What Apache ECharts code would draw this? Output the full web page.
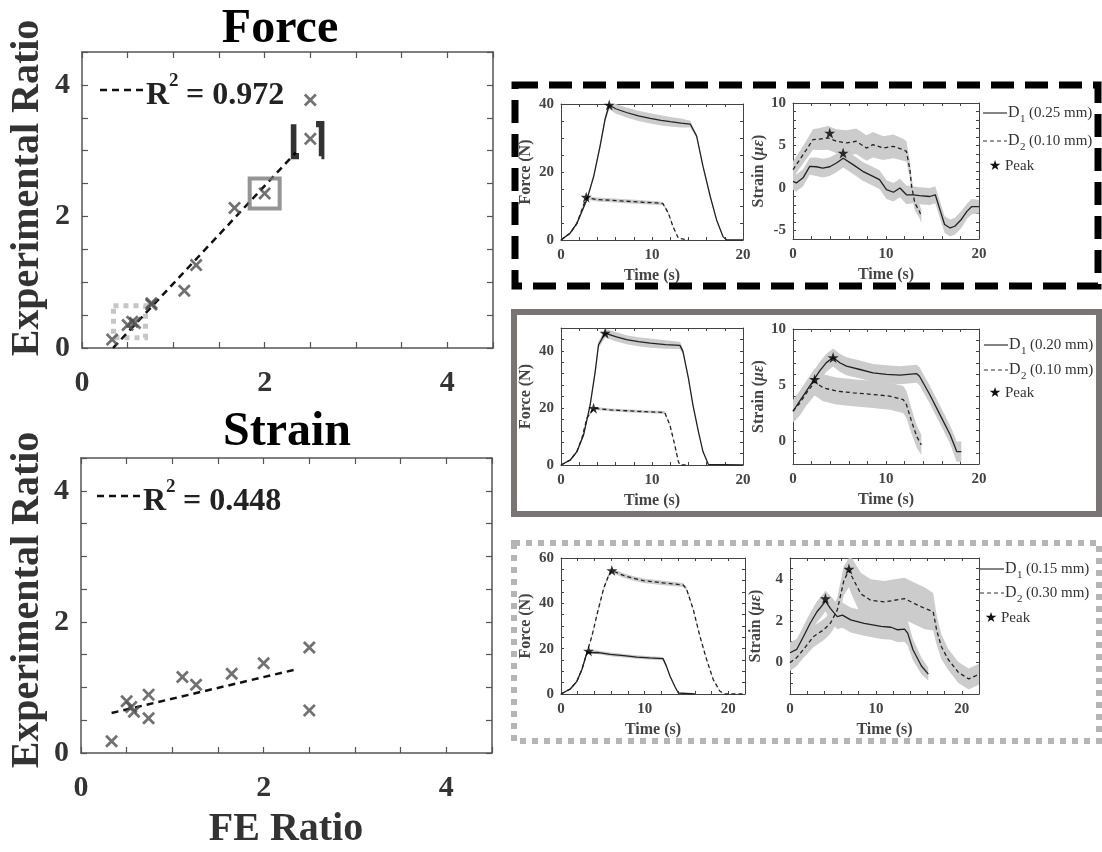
<!DOCTYPE html>
<html><head><meta charset="utf-8">
<script src="https://cdn.jsdelivr.net/npm/echarts@6/dist/echarts.min.js"></script>
<style>html,body{margin:0;padding:0;background:#fff}#c{width:1102px;height:852px}</style>
</head><body><div id="c"></div><script>
// ---------------- DATA ----------------
const feRatio   = [0.33, 0.50, 0.55, 0.58, 0.76, 0.76, 1.12, 1.25, 1.67, 2.00, 2.50, 2.50];
const forceExp  = [0.13, 0.35, 0.40, 0.38, 0.68, 0.66, 0.87, 1.26, 2.13, 2.35, 3.18, 3.77];
const strainX   = [0.335,0.50, 0.55, 0.58, 0.74, 0.74, 1.11, 1.26, 1.65, 2.00, 2.50, 2.50];
const strainExp = [0.18, 0.79, 0.70, 0.63, 0.89, 0.53, 1.16, 1.04, 1.21, 1.37, 1.61, 0.65];
const forceFit  = [[0.34, 0.0], [2.34, 2.97]];
const strainFit = [[0.335, 0.61], [2.34, 1.27]];
const forceR2 = "0.972", strainR2 = "0.448";
const boxBlack  = [[2.47, 3.16]];
const boxGray   = [[2.00, 2.35]];
const boxLight  = [[0.52, 0.40]];

// insets: [time, mean, sd]
const force1D1 = [[0,0,0.2],[1.0,2,0.3],[1.75,4.9,0.4],[2.85,11.9,0.5],[3.6,18.8,0.6],[4.3,27.7,0.8],[4.85,35.6,1.0],[5.3,39.7,1.2],[6.0,38.6,1.4],[7.2,37.5,1.5],[8.5,36.5,1.5],[9.8,35.8,1.5],[11,35.2,1.5],[12,34.8,1.4],[13.2,34.4,1.3],[14.2,34.1,1.0],[14.9,30.6,0.6],[15.6,21.7,0.4],[16.4,12.8,0.3],[17.1,5.9,0.2],[17.8,1,0.1],[18.2,0,0],[20,0,0]];
const force1D2 = [[0,0,0.2],[1.0,2,0.3],[1.75,4.9,0.4],[2.77,12.4,0.5],[4,11.9,0.6],[5.4,11.7,0.6],[7.2,11.4,0.6],[9,11.1,0.6],[10.5,10.9,0.5],[11.2,10.7,0.5],[11.8,7.9,0.4],[12.3,4,0.3],[12.9,0.5,0.1],[13,0,0],[14,0,0]];
const strain1D1 = [[0,0.78,1.0],[0.36,0.6,1.0],[1.08,1.2,1.0],[1.8,2.55,1.0],[2.5,2.5,1.1],[3.2,2.35,1.1],[3.95,2.5,1.1],[4.67,2.94,1.1],[5.4,3.5,1.1],[6.46,2.75,1.1],[7.5,1.96,1.1],[8.6,1.37,1.1],[9.3,0.98,1.1],[10.05,-0.2,1.1],[10.8,-0.5,1.1],[11.5,0,1.1],[12.2,-0.8,1.1],[12.9,-0.8,1.0],[13.6,-0.9,1.0],[14.7,-1.0,1.0],[15.3,-0.8,1.0],[15.8,-2.55,1.0],[16.3,-4.3,1.0],[16.9,-4.7,1.0],[17.4,-4.5,1.0],[18.1,-3.7,1.0],[18.7,-2.75,0.9],[19.2,-2.2,0.9],[20,-2.2,0.8]];
const strain1D2 = [[0,2.16,1.0],[0.72,3.33,1.0],[1.44,4.5,1.1],[2.15,5.7,1.2],[2.87,5.76,1.3],[3.77,5.9,1.4],[4.67,5.5,1.4],[5.75,5.3,1.5],[6.8,5.5,1.5],[7.9,4.7,1.5],[8.6,5.1,1.5],[9.7,4.7,1.4],[10.8,4.9,1.4],[11.85,4.5,1.3],[12.2,4.3,1.2],[12.57,2.16,1.0],[12.75,0.2,1.0],[13.1,-1.76,0.9],[13.6,-2.75,0.8],[13.8,-3.33,0.8]];
const force2D1 = [[0,0,0.2],[1.02,1.75,0.3],[1.75,4.7,0.4],[2.48,10.5,0.6],[3.2,21,0.8],[3.76,32.7,1.0],[4.12,42.1,1.2],[4.85,46.2,1.5],[6,45,1.6],[7.2,43.9,1.6],[8.5,43.2,1.6],[9.8,42.7,1.6],[11.5,42.2,1.5],[13.07,41.9,1.3],[13.4,39.8,1.0],[14,30.4,0.6],[14.5,21,0.4],[15.1,11.7,0.3],[15.6,4.7,0.2],[16.2,0.2,0.1],[16.35,0,0],[20,0,0]];
const force2D2 = [[0,0,0.2],[1.02,1.75,0.3],[1.75,4.7,0.4],[2.3,9.4,0.5],[2.85,16.4,0.5],[3.58,19.9,0.5],[5.4,19.3,0.5],[7.2,19,0.5],[9.05,18.7,0.5],[11.4,18.4,0.5],[11.97,14,0.4],[12.5,7,0.3],[12.9,1.2,0.2],[13.07,0,0],[14,0,0]];
const strain2D1 = [[0,2.69,0.7],[0.72,3.58,0.8],[1.44,4.48,0.8],[2.15,5.37,0.8],[2.87,6.27,0.8],[3.59,7.01,0.8],[4.31,7.46,0.8],[5.03,7.0,0.8],[5.75,6.7,0.8],[7.2,6.4,0.8],[8.6,6.1,0.8],[10.05,5.97,0.8],[11.5,5.9,0.8],[13.3,6.03,0.8],[13.6,5.8,0.8],[14.7,4.18,0.8],[15.8,2.39,0.8],[16.9,0.6,0.8],[17.4,-0.45,0.9],[17.6,-0.9,0.9],[18.1,-0.9,0.9]];
const strain2D2 = [[0,2.69,1.0],[0.72,3.4,1.1],[1.44,4.3,1.1],[2.33,5.3,1.2],[3.23,4.78,1.2],[4.67,4.48,1.2],[6.46,4.33,1.2],[8.6,4.18,1.2],[10.4,4.03,1.2],[11.85,3.73,1.2],[12.2,3.28,1.2],[12.75,1.79,1.1],[13.3,0.45,1.0],[13.8,-0.3,0.9]];
const force3D1 = [[0,0,0.2],[1.11,2.2,0.3],[1.9,5.6,0.4],[2.5,10.8,0.5],[3.1,18.2,0.6],[3.3,19,0.7],[4.5,18.3,0.8],[5.9,17.5,0.8],[7.5,16.9,0.8],[9.07,16.3,0.8],[10.6,15.9,0.8],[12.2,15.6,0.7],[12.6,12.3,0.5],[13.04,7.85,0.4],[13.6,3.4,0.3],[14.03,0.44,0.1],[14.2,0,0],[16,0,0]];
const force3D2 = [[0,0,0.2],[1.11,2.2,0.3],[1.9,5.6,0.4],[2.5,10.8,0.5],[3.1,18.2,0.6],[3.7,25.6,0.7],[4.37,36,0.8],[5.09,46.4,0.9],[5.69,52.3,1.0],[6.08,54.5,1.0],[7.47,52.3,1.0],[8.7,51,1.0],[9.86,50,1.0],[12.25,49,1.0],[14.6,48.1,0.9],[15,46.4,0.8],[15.8,37.5,0.6],[16.6,25.6,0.5],[17.4,15.3,0.4],[18.2,6.4,0.3],[19,1.2,0.2],[19.6,0,0],[22,0,0]];
const strain3D1 = [[0,0.47,0.5],[0.78,0.63,0.5],[1.57,1.25,0.5],[2.35,1.88,0.5],[3.14,2.43,0.5],[3.92,2.82,0.5],[4.12,2.95,0.5],[4.7,2.59,0.6],[5.5,2.2,0.6],[6.1,2.27,0.6],[7.06,2.04,0.6],[8.63,1.88,0.6],[10.6,1.73,0.6],[11.76,1.69,0.6],[12.55,1.57,0.6],[13.33,1.6,0.6],[13.7,1.41,0.6],[14.3,0.63,0.5],[15.3,-0.16,0.4],[16.1,-0.55,0.3]];
const strain3D2 = [[0,0,0.4],[0.78,0.24,0.4],[1.57,0.63,0.4],[2.75,1.25,0.5],[3.92,1.57,0.5],[4.7,1.88,0.5],[5.5,2.51,0.6],[6.27,3.92,0.7],[6.86,4.4,0.8],[7.25,4.08,0.9],[8.24,3.29,1.0],[9.4,2.98,1.0],[10.98,2.9,1.0],[12.16,2.98,1.0],[13.33,3.06,1.0],[14.5,2.82,1.0],[15.7,2.59,1.0],[16.67,2.43,0.9],[17.06,1.57,0.7],[17.6,0.78,0.6],[18.4,0.16,0.5],[19.6,-0.47,0.5],[20.8,-0.78,0.5],[21.6,-0.63,0.5],[22,-0.55,0.5]];
const force1Peak  = [[5.3, 39.7], [2.77, 12.6]];
const strain1Peak = [[3.95, 6.47], [5.39, 4.12]];
const force2Peak  = [[4.85, 46.2], [3.58, 19.9]];
const strain2Peak = [[4.31, 7.46], [2.33, 5.52]];
const force3Peak  = [[3.3, 19.0], [6.08, 54.5]];
const strain3Peak = [[4.12, 3.06], [6.86, 4.47]];
const legend1 = ["(0.25 mm)", "(0.10 mm)"];
const legend2 = ["(0.20 mm)", "(0.10 mm)"];
const legend3 = ["(0.15 mm)", "(0.30 mm)"];

// ---------------- BUILD ----------------
const FONT = "'Liberation Serif','Times New Roman',serif";
const grids = [], xAxes = [], yAxes = [], series = [], graphic = [];
const isLab = (v, e) => { const r = v / e; return Math.abs(r - Math.round(r)) < 1e-6; };
function mkAxis(dim, gi, o, mirror) {
  return {
    type: 'value', gridIndex: gi, min: o.min, max: o.max, interval: o.interval,
    position: dim === 'x' ? (mirror ? 'top' : 'bottom') : (mirror ? 'right' : 'left'),
    axisLine: { show: true, onZero: false, lineStyle: { color: o.lc, width: o.lw } },
    axisTick: { show: true, inside: true, length: o.tl, lineStyle: { color: o.lc, width: o.tw || 1 } },
    axisLabel: { show: !mirror, margin: o.margin, color: o.labColor, fontFamily: FONT, fontWeight: 'bold',
      fontSize: o.fs, showMinLabel: true, showMaxLabel: true, hideOverlap: false,
      formatter: v => isLab(v, o.every) ? String(Math.round(v * 100) / 100) : '' },
    splitLine: { show: false },
    name: mirror ? '' : (o.name || ''), nameLocation: 'middle', nameGap: o.nameGap || 20,
    nameTextStyle: o.nameStyle || {}
  };
}
function addGrid(rect, xo, yo) {
  const gi = grids.length;
  grids.push(Object.assign({ containLabel: false, outerBoundsMode: 'none', show: false }, rect));
  xAxes.push(mkAxis('x', gi, xo, false), mkAxis('x', gi, xo, true));
  yAxes.push(mkAxis('y', gi, yo, false), mkAxis('y', gi, yo, true));
  return { xi: 2 * gi, yi: 2 * gi, ymin: yo.min, ymax: yo.max };
}
const xPath = 'path://M0,3 L3,0 L10,7 L17,0 L20,3 L13,10 L20,17 L17,20 L10,13 L3,20 L0,17 L7,10 Z';
const starPath = 'path://M50,0 L61.8,35.5 L99,35.5 L68.8,57.5 L80.3,93 L50,71 L19.7,93 L31.2,57.5 L1,35.5 L38.2,35.5 Z';

// ----- main scatter plots -----
const mainO = () => ({ min: 0, max: 4.5, interval: 0.5, every: 2, lc: '#555', lw: 1.5, tl: 6, tw: 1.2,
  labColor: '#333', fs: 30, margin: 0 });
function mainPlot(rect, fit) {
  const xo = Object.assign(mainO(), { margin: 20 });
  const yo = Object.assign(mainO(), { margin: 12 });
  const a = addGrid(rect, xo, yo);
  series.push({ type: 'line', xAxisIndex: a.xi, yAxisIndex: a.yi, data: fit, symbol: 'none', z: 2,
    lineStyle: { color: '#111', width: 2.5, type: [7, 5] }, silent: true });
  return a;
}
const gF = mainPlot({ left: 82, top: 52, width: 411, height: 296 }, forceFit);
series.push({ type: 'scatter', xAxisIndex: gF.xi, yAxisIndex: gF.yi, data: boxLight, symbol: 'rect', symbolSize: 32, z: 1,
  itemStyle: { color: 'rgba(0,0,0,0)', borderColor: '#b8b8b8', borderWidth: 5, borderType: [5, 5] } });
series.push({ type: 'scatter', xAxisIndex: gF.xi, yAxisIndex: gF.yi, data: boxGray, symbol: 'rect', symbolSize: 30, z: 3,
  itemStyle: { color: 'rgba(0,0,0,0)', borderColor: '#7a7a7a', borderWidth: 4 } });
series.push({ type: 'scatter', xAxisIndex: gF.xi, yAxisIndex: gF.yi, data: boxBlack, symbol: 'rect', symbolSize: [28, 32], z: 3,
  itemStyle: { color: 'rgba(0,0,0,0)', borderColor: '#000', borderWidth: 6, borderType: [36, 24], borderDashOffset: 36 } });
series.push({ type: 'scatter', xAxisIndex: gF.xi, yAxisIndex: gF.yi, data: feRatio.map((x, i) => [x, forceExp[i]]),
  symbol: xPath, symbolSize: 13, z: 4, itemStyle: { color: '#4d4d4d' } });

const gS = mainPlot({ left: 81, top: 458, width: 411, height: 295 }, strainFit);
series.push({ type: 'scatter', xAxisIndex: gS.xi, yAxisIndex: gS.yi, data: strainX.map((x, i) => [x, strainExp[i]]),
  symbol: xPath, symbolSize: 13, z: 4, itemStyle: { color: '#4d4d4d' } });

// ----- insets -----
const INS = { lc: '#444', lw: 1, tl: 3, labColor: '#444', fs: 15 };
const nameStyle = { fontFamily: FONT, fontWeight: 'bold', fontSize: 16, color: '#444' };
const strainNameStyle = { fontFamily: FONT, fontSize: 16, color: '#444',
  rich: { b: { fontFamily: FONT, fontWeight: 'bold', fontSize: 16, color: '#444' },
          i: { fontFamily: FONT, fontStyle: 'italic', fontWeight: 'bold', fontSize: 16, color: '#444' } } };
function band(arr, a) {
  series.push({ type: 'custom', xAxisIndex: a.xi, yAxisIndex: a.yi, clip: true, z: 1, silent: true,
    data: [[arr[0][0], arr[0][1]]],
    renderItem: (params, api) => {
      const up = arr.map(p => api.coord([p[0], Math.min(a.ymax, p[1] + p[2])]));
      const lo = arr.slice().reverse().map(p => api.coord([p[0], Math.max(a.ymin, p[1] - p[2])]));
      return { type: 'polygon', shape: { points: up.concat(lo) }, style: { fill: '#cccccc' } };
    } });
}
function curves(a, d1, d2, pk) {
  band(d1, a); band(d2, a);
  series.push({ type: 'line', xAxisIndex: a.xi, yAxisIndex: a.yi, data: d1.map(p => [p[0], p[1]]), symbol: 'none', z: 3,
    lineStyle: { color: '#222', width: 1.3 }, silent: true });
  series.push({ type: 'line', xAxisIndex: a.xi, yAxisIndex: a.yi, data: d2.map(p => [p[0], p[1]]), symbol: 'none', z: 3,
    lineStyle: { color: '#222', width: 1.3, type: [4, 3] }, silent: true });
  series.push({ type: 'scatter', xAxisIndex: a.xi, yAxisIndex: a.yi, data: pk, symbol: starPath, symbolSize: 11, z: 4,
    itemStyle: { color: '#000' } });
}
function inset(fRect, sRect, tMaxF, tMaxS, fMax, fInt, sMin, sMax, sInt, sEvery, fd1, fd2, fpk, sd1, sd2, spk) {
  const tx = (m) => Object.assign({}, INS, { min: 0, max: m, interval: 2, every: 10, margin: 8, name: 'Time (s)', nameGap: 28, nameStyle: nameStyle });
  const af = addGrid(fRect, tx(tMaxF), Object.assign({}, INS, { min: 0, max: fMax, interval: fInt, every: 20, margin: 7,
    name: 'Force (N)', nameGap: 27, nameStyle: nameStyle }));
  curves(af, fd1, fd2, fpk);
  const as = addGrid(sRect, tx(tMaxS), Object.assign({}, INS, { min: sMin, max: sMax, interval: sInt, every: sEvery, margin: 7,
    name: '{b|Strain (}{i|με}{b|)}', nameGap: 26, nameStyle: strainNameStyle }));
  curves(as, sd1, sd2, spk);
}
inset({ left: 561, top: 104, width: 182, height: 136 }, { left: 793, top: 103, width: 186, height: 136 },
  20, 20, 40, 5, -6, 10, 1, 5, force1D1, force1D2, force1Peak, strain1D1, strain1D2, strain1Peak);
inset({ left: 561, top: 328, width: 182, height: 137 }, { left: 793, top: 329, width: 186, height: 135 },
  20, 20, 48, 4, -2, 10, 1, 5, force2D1, force2D2, force2Peak, strain2D1, strain2D2, strain2Peak);
inset({ left: 561, top: 558, width: 184, height: 136 }, { left: 790, top: 558, width: 189, height: 136 },
  22, 22, 60, 5, -1.5, 5, 0.5, 2, force3D1, force3D2, force3Peak, strain3D1, strain3D2, strain3Peak);

// ----- graphics: frames, titles, labels, legends -----
function txt(x, y, s, size, o) {
  return { type: 'text', x: x, y: y, z: 50, style: Object.assign({ text: s, fontFamily: FONT, fontSize: size,
    fontWeight: 'bold', fill: '#222', align: 'left', verticalAlign: 'middle' }, o || {}) };
}
graphic.push({ type: 'rect', z: 40, shape: { x: 515, y: 85, width: 583, height: 201 },
  style: { fill: 'none', stroke: '#000', lineWidth: 7, lineDash: [23, 11] } });
graphic.push({ type: 'rect', z: 40, shape: { x: 514, y: 312, width: 585, height: 202 },
  style: { fill: 'none', stroke: '#7b7474', lineWidth: 6 } });
graphic.push({ type: 'rect', z: 40, shape: { x: 514, y: 543, width: 585, height: 198 },
  style: { fill: 'none', stroke: '#b5b5b5', lineWidth: 6, lineDash: [6, 6] } });

graphic.push(txt(280, 30, 'Force', 48, { align: 'center', fill: '#000' }));
graphic.push(txt(287, 433, 'Strain', 48, { align: 'center', fill: '#000' }));
graphic.push(Object.assign(txt(28, 188, 'Experimental Ratio', 40, { align: 'center', fill: '#333' }), { rotation: Math.PI / 2 }));
graphic.push(Object.assign(txt(28, 600, 'Experimental Ratio', 40, { align: 'center', fill: '#333' }), { rotation: Math.PI / 2 }));
graphic.push(txt(286, 830, 'FE Ratio', 40, { align: 'center', fill: '#333' }));

function r2Legend(x0, y, val) {
  graphic.push({ type: 'line', z: 50, shape: { x1: x0, y1: y, x2: x0 + 44, y2: y },
    style: { stroke: '#111', lineWidth: 2.5, lineDash: [7, 5] } });
  graphic.push(txt(x0 + 46, y + 6, 'R', 32));
  graphic.push(txt(x0 + 69, y - 9, '2', 19));
  graphic.push(txt(x0 + 86, y + 6, '= ' + val, 32));
}
r2Legend(100, 90, forceR2);
r2Legend(97, 496, strainR2);

function insetLegend(x0, ys, labs, starX) {
  const c = '#333';
  [0, 1].forEach(i => {
    graphic.push({ type: 'line', z: 50, shape: { x1: x0, y1: ys[i], x2: x0 + 24, y2: ys[i] },
      style: { stroke: c, lineWidth: 1.2, lineDash: i ? [4, 3] : null } });
    graphic.push(txt(x0 + 25, ys[i], 'D', 16, { fontWeight: 'normal', fill: c }));
    graphic.push(txt(x0 + 37, ys[i] + 6, String(i + 1), 11, { fontWeight: 'normal', fill: c }));
    graphic.push(txt(x0 + 46, ys[i], labs[i], 15, { fontWeight: 'normal', fill: c }));
  });
  graphic.push({ type: 'text', x: starX, y: ys[2], z: 50, style: { text: '★', fontFamily: 'DejaVu Sans', fontSize: 14,
    fill: '#111', align: 'center', verticalAlign: 'middle' } });
  graphic.push(txt(starX + 10, ys[2], 'Peak', 15, { fontWeight: 'normal', fill: c }));
}
insetLegend(983, [113, 141, 166], legend1, 995);
insetLegend(984, [345, 370, 393], legend2, 995);
insetLegend(980, [569, 593, 618], legend3, 991);

const chart = echarts.init(document.getElementById('c'), null, { renderer: 'canvas' });
chart.setOption({ backgroundColor: '#fff', animation: false, grid: grids, xAxis: xAxes, yAxis: yAxes, series: series, graphic: graphic });
</script></body></html>
